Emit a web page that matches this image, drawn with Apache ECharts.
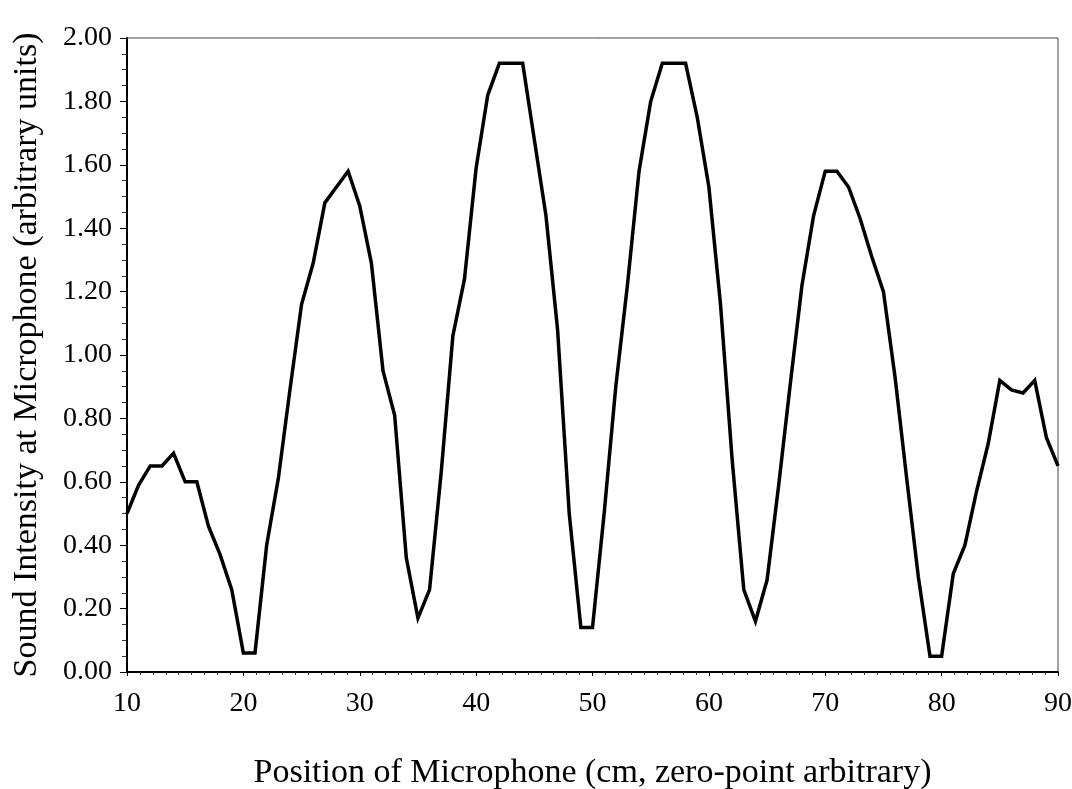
<!DOCTYPE html>
<html>
<head>
<meta charset="utf-8">
<script src="https://cdn.jsdelivr.net/npm/echarts@6/dist/echarts.min.js"></script>
<style>
html,body{margin:0;padding:0;background:#fff;}
#chart{width:1072px;height:789px;}
</style>
</head>
<body>
<div id="chart"></div>
<script>
const positions = [10,11,12,13,14,15,16,17,18,19,20,21,22,23,24,25,26,27,28,29,30,
  31,32,33,34,35,36,37,38,39,40,41,42,43,44,45,46,47,48,49,50,
  51,52,53,54,55,56,57,58,59,60,61,62,63,64,65,66,67,68,69,70,
  71,72,73,74,75,76,77,78,79,80,81,82,83,84,85,86,87,88,89,90];
const intensity = [0.50,0.59,0.65,0.65,0.69,0.60,0.60,0.46,0.37,0.26,0.06,0.06,0.40,0.61,0.89,1.16,1.29,1.48,1.53,1.58,1.47,
  1.29,0.95,0.81,0.36,0.17,0.26,0.63,1.06,1.24,1.59,1.82,1.92,1.92,1.92,1.68,1.44,1.08,0.50,0.14,0.14,
  0.50,0.90,1.22,1.58,1.80,1.92,1.92,1.92,1.75,1.53,1.16,0.67,0.26,0.16,0.29,0.59,0.91,1.22,1.44,1.58,
  1.58,1.53,1.43,1.31,1.20,0.93,0.61,0.30,0.05,0.05,0.31,0.40,0.57,0.72,0.92,0.89,0.88,0.92,0.74,0.65];
const xTitle = 'Position of Microphone (cm, zero-point arbitrary)';
const yTitle = 'Sound Intensity at Microphone (arbitrary units)';

const serif = '"Liberation Serif", "DejaVu Serif", serif';
const chart = echarts.init(document.getElementById('chart'), null, {renderer: 'canvas'});
chart.setOption({
  animation: false,
  backgroundColor: '#fff',
  grid: {left: 127, right: 14, top: 38, bottom: 117, show: true, borderColor: '#444', borderWidth: 1,
    containLabel: false, outerBoundsMode: 'none'},
  xAxis: {
    type: 'value', min: 10, max: 90, interval: 10,
    name: xTitle, nameLocation: 'middle', nameGap: 84,
    nameTextStyle: {fontFamily: serif, fontSize: 34, color: '#000'},
    axisLine: {show: true, onZero: false, lineStyle: {color: '#000', width: 2}},
    axisTick: {show: true, inside: false, length: 4, lineStyle: {color: '#000', width: 1}},
    minorTick: {show: true, splitNumber: 9, length: 3, lineStyle: {color: '#333', width: 1}},
    axisLabel: {fontFamily: serif, fontSize: 28, color: '#000', margin: 18},
    splitLine: {show: false}
  },
  yAxis: {
    type: 'value', min: 0, max: 2, interval: 0.2,
    name: yTitle, nameLocation: 'middle', nameGap: 83, nameRotate: 90,
    nameTextStyle: {fontFamily: serif, fontSize: 34, color: '#000'},
    axisLine: {show: true, onZero: false, lineStyle: {color: '#000', width: 2}},
    axisTick: {show: true, inside: false, length: 7, lineStyle: {color: '#000', width: 1}},
    minorTick: {show: true, splitNumber: 4, length: 5, lineStyle: {color: '#333', width: 1}},
    axisLabel: {fontFamily: serif, fontSize: 28, color: '#000', margin: 15,
      formatter: v => v.toFixed(2)},
    splitLine: {show: false}
  },
  series: [{
    type: 'line',
    data: positions.map((p, i) => [p, intensity[i]]),
    showSymbol: false,
    symbol: 'none',
    lineStyle: {color: '#000', width: 3.5, join: 'miter'},
    clip: true
  }]
});
</script>
</body>
</html>
